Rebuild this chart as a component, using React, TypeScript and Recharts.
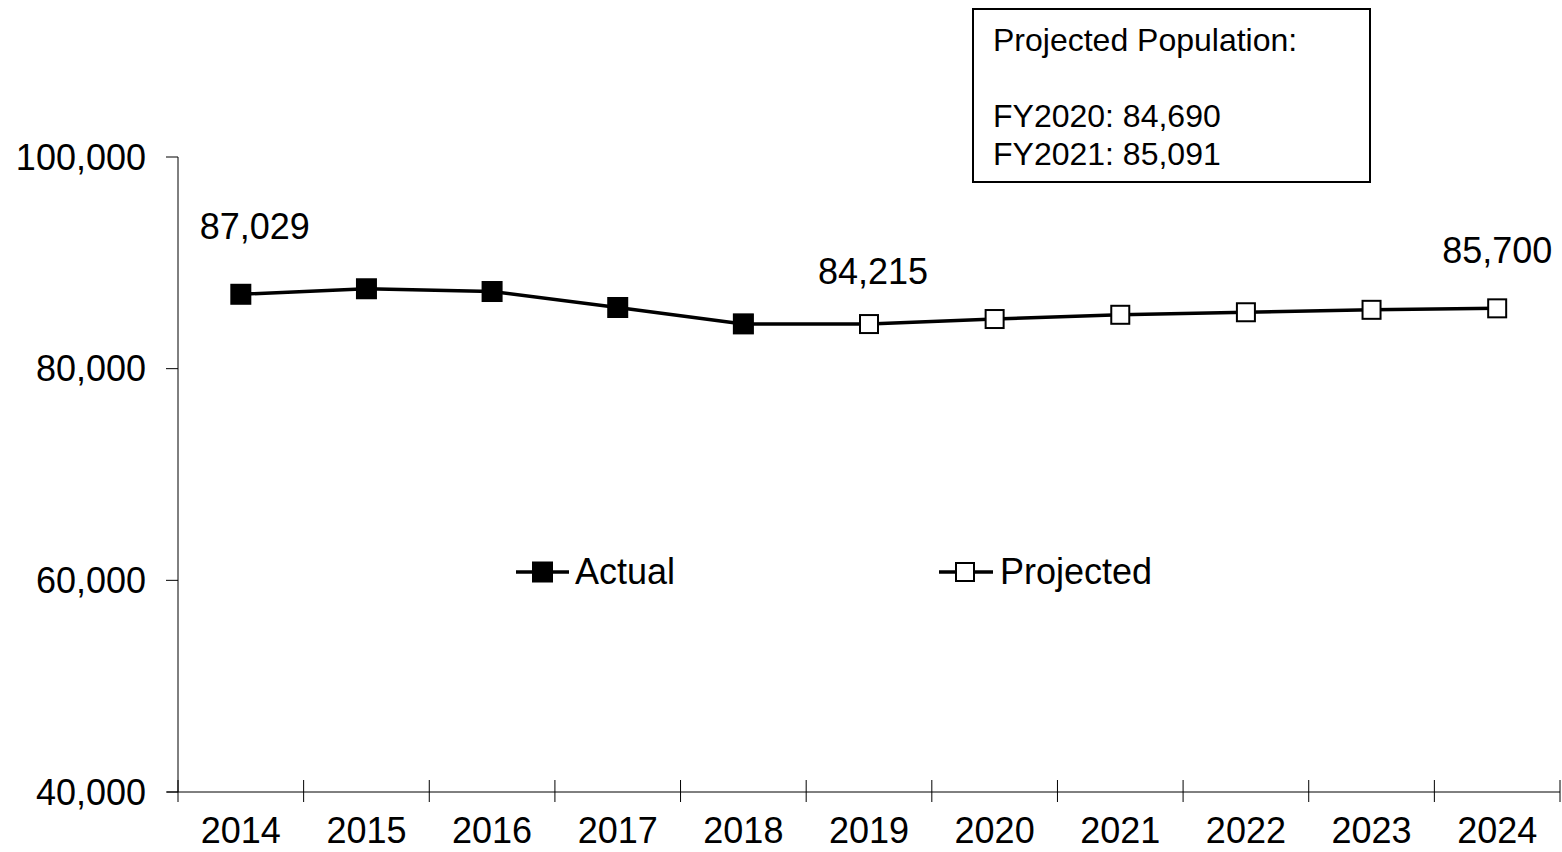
import { LineChart, Line, XAxis, YAxis, Legend } from 'recharts'

const years = ['2014', '2015', '2016', '2017', '2018', '2019', '2020', '2021', '2022', '2023', '2024']
const actual = [87029, 87550, 87290, 85780, 84230, null, null, null, null, null, null]
// 2018 repeats the last actual value so the projected line joins it
const projected = [null, null, null, null, 84230, 84215, 84690, 85091, 85330, 85560, 85700]
const yTicks = [40000, 60000, 80000, 100000]
const boxLines = ['Projected Population:', '', 'FY2020: 84,690', 'FY2021: 85,091']

const data = years.map((year, i) => ({ year, actual: actual[i], projected: projected[i] }))

const W = 1562
const H = 852
const PLOT_LEFT = 178
const PLOT_RIGHT = 1560
const BAND = (PLOT_RIGHT - PLOT_LEFT) / years.length
const FONT = '"Liberation Sans", Arial, sans-serif'

function YearTick(props: any) {
  const { x, y, payload, index } = props
  const left = x - BAND / 2
  return (
    <g>
      <line x1={left} x2={left} y1={y - 12} y2={y + 10} stroke="#000" />
      {index === years.length - 1 && (
        <line x1={x + BAND / 2} x2={x + BAND / 2} y1={y - 12} y2={y + 10} stroke="#000" />
      )}
      {index === 0 && <line x1={left - 11} x2={left} y1={y} y2={y} stroke="#000" />}
      <text x={x} y={y + 51} textAnchor="middle" fontSize={36} fill="#000">
        {payload.value}
      </text>
    </g>
  )
}

const filledDot = (p: any) => {
  if (p.cy == null || p.value == null) return <g key={p.index} />
  return <rect key={p.index} x={p.cx - 10.5} y={p.cy - 10.5} width={21} height={21} fill="#000" />
}

const openDot = (p: any) => {
  if (p.cy == null || p.value == null) return <g key={p.index} />
  return (
    <rect key={p.index} x={p.cx - 9} y={p.cy - 9} width={18} height={18} fill="#fff" stroke="#000" strokeWidth={2} />
  )
}

// only a few points carry a value label
const labelOffsets: Record<string, Record<number, [number, number]>> = {
  actual: { 0: [14, -55] },
  projected: { 5: [4, -40], 10: [0, -45] },
}

const makeLabel = (key: string) => (p: any) => {
  const off = labelOffsets[key][p.index]
  if (!off || p.value == null) return <g key={p.index} />
  return (
    <text key={p.index} x={p.x + off[0]} y={p.y + off[1]} textAnchor="middle" fontSize={36} fill="#000">
      {Number(p.value).toLocaleString('en-US')}
    </text>
  )
}

function LegendContent() {
  return (
    <svg width={W} height={40} style={{ fontFamily: FONT }}>
      <line x1={516} x2={569} y1={20} y2={20} stroke="#000" strokeWidth={3.5} />
      <rect x={532} y={9.5} width={21} height={21} fill="#000" />
      <text x={575} y={32} fontSize={36} fill="#000">Actual</text>
      <line x1={939} x2={993} y1={20} y2={20} stroke="#000" strokeWidth={3.5} />
      <rect x={956} y={11} width={18} height={18} fill="#fff" stroke="#000" strokeWidth={2} />
      <text x={1000} y={32} fontSize={36} fill="#000">Projected</text>
    </svg>
  )
}

export default function App() {
  return (
    <div style={{ position: 'absolute', left: 0, top: 0, width: W, height: H, background: '#fff', fontFamily: FONT }}>
      <LineChart width={W} height={H} data={data} margin={{ top: 157, right: W - PLOT_RIGHT, left: 0, bottom: 0 }}>
        <XAxis
          dataKey="year"
          interval={0}
          height={60}
          tickSize={0}
          tickMargin={0}
          padding={{ left: BAND / 2, right: BAND / 2 }}
          axisLine={{ stroke: '#000' }}
          tick={(p: any) => <YearTick {...p} />}
        />
        <YAxis
          width={PLOT_LEFT}
          domain={[40000, 100000]}
          ticks={yTicks}
          interval={0}
          tickSize={12}
          tickMargin={20}
          axisLine={{ stroke: '#000' }}
          tickLine={{ stroke: '#000' }}
          tick={{ fontSize: 36, fill: '#000' }}
          tickFormatter={(v: number) => v.toLocaleString('en-US')}
        />
        <Legend
          layout="horizontal"
          verticalAlign="middle"
          align="center"
          content={() => <LegendContent />}
          wrapperStyle={{ top: 552, left: 0, width: W, height: 40 }}
        />
        <Line
          dataKey="projected"
          stroke="#000"
          strokeWidth={3.5}
          dot={openDot}
          activeDot={false}
          label={makeLabel('projected')}
          isAnimationActive={false}
        />
        <Line
          dataKey="actual"
          stroke="#000"
          strokeWidth={3.5}
          dot={filledDot}
          activeDot={false}
          label={makeLabel('actual')}
          isAnimationActive={false}
        />
      </LineChart>
      <div
        style={{
          position: 'absolute',
          left: 972,
          top: 8,
          width: 399,
          height: 175,
          boxSizing: 'border-box',
          border: '2px solid #000',
          background: '#fff',
          paddingTop: 11,
          paddingLeft: 19,
          fontSize: 32,
          lineHeight: '38px',
          color: '#000',
        }}
      >
        {boxLines.map((t, i) => (
          <div key={i} style={{ height: 38, whiteSpace: 'nowrap' }}>
            {t}
          </div>
        ))}
      </div>
    </div>
  )
}
